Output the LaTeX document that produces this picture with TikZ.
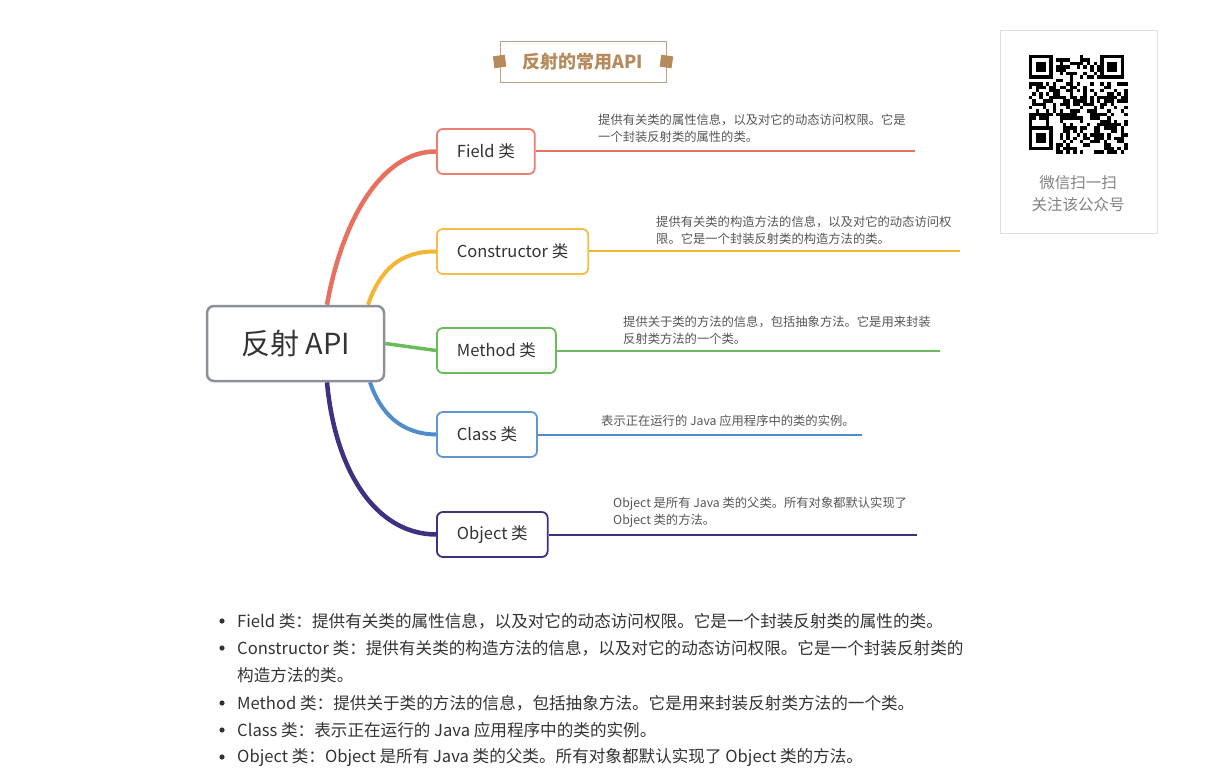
\documentclass[tikz,border=0pt]{standalone}
\usepackage{fontspec}
\setmainfont{Noto Sans CJK SC}
\usetikzlibrary{backgrounds}
\definecolor{cF}{HTML}{E8705F}
\definecolor{cC}{HTML}{F2B634}
\definecolor{cM}{HTML}{68BD5A}
\definecolor{cK}{HTML}{4F8CCB}
\definecolor{cO}{HTML}{3D3182}
\definecolor{tan}{HTML}{B58A5C}
\definecolor{txt}{HTML}{333333}
\definecolor{note}{HTML}{555555}
\definecolor{rootgray}{HTML}{8C9099}
\begin{document}
\begin{tikzpicture}[x=1pt, y=-1pt, root style/.style={draw=rootgray, line width=2.5pt, rounded corners=7pt, fill=white, minimum width=177pt, minimum height=75pt, text=txt, font=\fontsize{29}{32}\selectfont}, branch style/.style={rectangle, anchor=west, rounded corners=6pt, line width=1.8pt, fill=white, minimum height=45pt, inner xsep=20pt, text=txt, font=\fontsize{16.5}{19}\selectfont}, note style/.style={anchor=west, align=left, inner sep=0pt, text=note, font=\fontsize{12.3}{17}\selectfont}, item style/.style={anchor=west, inner sep=0pt, text=txt, font=\fontsize{16.6}{20}\selectfont}, deco/.style={fill=tan, minimum size=12pt, inner sep=0pt}]
	\useasboundingbox (0,0) rectangle (1230,775);
	% title
	\node[draw=tan!80, line width=0.8pt, minimum width=166pt, minimum height=41pt, text=tan, font=\fontsize{18}{20}\selectfont\bfseries] (T0) at (583,61.5) {反射的常用API};
	\node[deco, rotate=8] (D1) at (T0.west) {};
	\node[deco, rotate=-8] (D2) at (T0.east) {};
	% qr card
	\node[draw=gray!25, line width=0.8pt, minimum width=157pt, minimum height=203pt] (Q0) at (1078.5,131.5) {};
	\pgfmathsetseed{17}
	\foreach \i in {0,...,28}
	\foreach \j in {0,...,28} {
		\pgfmathtruncatemacro{\r}{random(0,1)}
		\pgfmathtruncatemacro{\fz}{(\i<8 && \j<8) || (\i>20 && \j<8) || (\i<8 && \j>20)}
		\ifnum\r=1 \ifnum\fz=0 \fill (1029+\i*3.4,55+\j*3.4) rectangle +(3.4,3.4); \fi\fi
	}
	\foreach \a/\b in {0/0, 21/0, 0/21} {
		\fill (1029+\a*3.4,55+\b*3.4) rectangle +(23.8,23.8);
		\fill[white] (1029+\a*3.4+3.4,55+\b*3.4+3.4) rectangle +(17,17);
		\fill (1029+\a*3.4+6.8,55+\b*3.4+6.8) rectangle +(10.2,10.2);
	}
	\node[text=gray, font=\fontsize{15.5}{18}\selectfont] (Q1) at (1078,183) {微信扫一扫};
	\node[text=gray, font=\fontsize{15.5}{18}\selectfont] (Q2) at (1078,205) {关注该公众号};
	% mind map
	\node[root style] (A0) at (295.5,343.5) {反射 API};
	\node[branch style, draw=cF!90] (A1) at (436,151.5) {Field 类};
	\node[branch style, draw=cC!90] (A2) at (436,251.5) {Constructor 类};
	\node[branch style, draw=cM] (A3) at (436,350.5) {Method 类};
	\node[branch style, draw=cK!90] (A4) at (436,434.5) {Class 类};
	\node[branch style, draw=cO] (A5) at (436,534.5) {Object 类};
	\begin{scope}[on background layer]
		\draw[cF, line width=4.5pt] ([xshift=31.5pt]A0.north) .. controls (342,220) and (382,151) .. (A1.west);
		\draw[cC, line width=4pt] ([xshift=72.5pt]A0.north) .. controls (380,270) and (400,251) .. (A2.west);
		\draw[cM, line width=3.5pt] (A0.east) -- (A3.west);
		\draw[cK, line width=4pt] ([xshift=74.5pt]A0.south) .. controls (380,412) and (400,434) .. (A4.west);
		\draw[cO, line width=4.5pt] ([xshift=31.5pt]A0.south) .. controls (335,470) and (375,534) .. (A5.west);
	\end{scope}
	\coordinate (E1) at (915,151.5);
	\coordinate (E2) at (960,251.5);
	\coordinate (E3) at (940,350.5);
	\coordinate (E4) at (862,434.5);
	\coordinate (E5) at (917,534.5);
	\draw[cF, line width=2pt] (A1.east) -- (E1);
	\draw[cC, line width=2pt] (A2.east) -- (E2);
	\draw[cM, line width=2pt] (A3.east) -- (E3);
	\draw[cK, line width=2pt] (A4.east) -- (E4);
	\draw[cO, line width=2pt] (A5.east) -- (E5);
	\node[note style] (B1) at (598,128.5) {提供有关类的属性信息，以及对它的动态访问权限。它是\\一个封装反射类的属性的类。};
	\node[note style] (B2) at (656,230.5) {提供有关类的构造方法的信息，以及对它的动态访问权\\限。它是一个封装反射类的构造方法的类。};
	\node[note style] (B3) at (623,330.5) {提供关于类的方法的信息，包括抽象方法。它是用来封装\\反射类方法的一个类。};
	\node[note style] (B4) at (601,421) {表示正在运行的 Java 应用程序中的类的实例。};
	\node[note style] (B5) at (613,512) {Object 是所有 Java 类的父类。所有对象都默认实现了\\Object 类的方法。};
	% list
	\node[item style] (L1) at (237,621) {Field 类：提供有关类的属性信息，以及对它的动态访问权限。它是一个封装反射类的属性的类。};
	\node[item style] (L2) at (237,648) {Constructor 类：提供有关类的构造方法的信息，以及对它的动态访问权限。它是一个封装反射类的};
	\node[item style] (L3) at (237,675) {构造方法的类。};
	\node[item style] (L4) at (237,703) {Method 类：提供关于类的方法的信息，包括抽象方法。它是用来封装反射类方法的一个类。};
	\node[item style] (L5) at (237,730) {Class 类：表示正在运行的 Java 应用程序中的类的实例。};
	\node[item style] (L6) at (237,757) {Object 类：Object 是所有 Java 类的父类。所有对象都默认实现了 Object 类的方法。};
	\foreach \x in {1,2,4,5,6}
	\fill[txt] ([xshift=-15pt]L\x.west) circle (2.6pt);
\end{tikzpicture}
\end{document}
